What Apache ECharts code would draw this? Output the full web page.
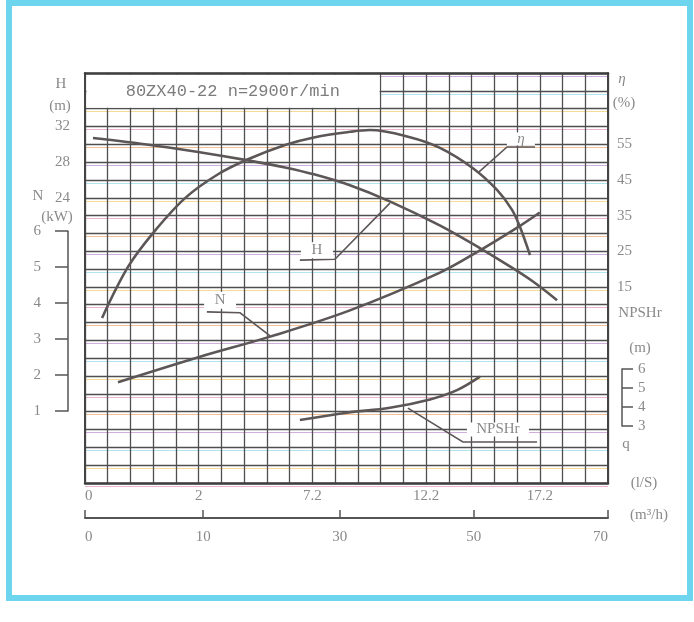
<!DOCTYPE html>
<html>
<head>
<meta charset="utf-8">
<script src="https://cdn.jsdelivr.net/npm/echarts@6/dist/echarts.min.js"></script>
<style>
html, body { margin: 0; padding: 0; background: #fff; }
#main { width: 694px; height: 622px; }
</style>
</head>
<body>
<div id="main"></div>
<script>
// x runs over the 23 grid columns of the sheet, labels as printed
var qTickPos = [0, 5, 10, 15, 20];
var qTickLabels = ['0', '2', '7.2', '12.2', '17.2'];
var flowTickPos = [0, 5.2, 11.2, 17.1, 23];
var flowTickLabels = ['0', '10', '30', '50', '70'];
var headTicks = [24, 28, 32];
var effTicks = [15, 25, 35, 45, 55];

// H (m)
var headX = [0.35, 2.95, 4.84, 7.17, 8.8, 10.11, 11.65, 13.4, 15.6, 17.4, 18.56, 19.7, 20.76];
var headY = [30.7, 29.9, 29.2, 28.2, 27.4, 26.6, 25.4, 23.6, 20.9, 18.3, 16.5, 14.6, 12.5];
// η (%)
var effX = [0.75, 1.89, 2.99, 4.4, 5.85, 7.17, 8.8, 10.11, 11.65, 12.53, 14.29, 15.61, 17.06, 18.12, 18.78, 19.13, 19.57];
var effY = [6.3, 20.6, 30.1, 39.9, 46.6, 50.8, 54.8, 57.0, 58.5, 59.0, 57.0, 54.0, 48.3, 42.2, 36.6, 31.8, 23.9];
// N (kW)
var powerX = [1.45, 5.06, 8.14, 11.65, 15.61, 17.24, 19.13, 20.0];
var powerY = [1.8, 2.51, 3.07, 3.8, 4.85, 5.42, 6.15, 6.52];
// NPSHr (m)
var npshX = [9.45, 11.52, 13.41, 15.17, 16.36, 17.37];
var npshY = [3.32, 3.7, 3.96, 4.4, 4.89, 5.6];

var G = { left: 85, top: 73, width: 523, height: 410 };
var N_MIN = -1, N_MAX = 10.4;
var NP_MIN = 0, NP_MAX = 410 / 19;

var ink = '#5d5656';
var gridInk = '#4f4f4f';
var textGray = '#8a8a8a';
var serif = 'Liberation Serif';

function pairs(xs, ys) {
  return xs.map(function (x, i) { return [x, ys[i]]; });
}
function valToY(v, min, max) {
  return G.top + G.height * (1 - (v - min) / (max - min));
}

var nTop = valToY(6, N_MIN, N_MAX), nBottom = valToY(1, N_MIN, N_MAX);
var pTop = valToY(6, NP_MIN, NP_MAX), pBottom = valToY(3, NP_MIN, NP_MAX);

function curve(name, data, yIdx) {
  return {
    name: name, type: 'line', xAxisIndex: 0, yAxisIndex: yIdx,
    data: data, smooth: 0.35, showSymbol: false, silent: true, z: 4,
    lineStyle: { color: ink, width: 2.6 }
  };
}

var option = {
  animation: false,
  backgroundColor: '#fff',
  grid: [
    { left: G.left, top: G.top, width: G.width, height: G.height },
    { left: 68, top: nTop, width: 2, height: nBottom - nTop },
    { left: 620, top: pTop, width: 2, height: pBottom - pTop },
    { left: G.left, top: G.top + 3, width: G.width, height: G.height }
  ],
  xAxis: [
    {
      gridIndex: 0, type: 'value', min: 0, max: 23, interval: 1, position: 'bottom',
      axisLine: { onZero: false, lineStyle: { color: '#3f3f3f', width: 2.5 } },
      axisTick: { show: false },
      splitLine: { show: true, lineStyle: { color: gridInk, width: 1.3 } },
      axisLabel: {
        customValues: qTickPos, color: textGray, fontFamily: serif, fontSize: 15, margin: 6,
        alignMinLabel: 'left',
        formatter: function (v) { return qTickLabels[qTickPos.indexOf(v)]; }
      }
    },
    {
      gridIndex: 0, type: 'value', min: 0, max: 23, position: 'bottom', offset: 35,
      axisLine: { onZero: false, lineStyle: { color: '#555', width: 2 } },
      axisTick: { show: true, inside: true, length: 8, customValues: flowTickPos, lineStyle: { color: '#555', width: 1.5 } },
      splitLine: { show: false },
      axisLabel: {
        customValues: flowTickPos, color: textGray, fontFamily: serif, fontSize: 15, margin: 12,
        alignMinLabel: 'left', alignMaxLabel: 'right',
        formatter: function (v) { return flowTickLabels[flowTickPos.indexOf(v)]; }
      }
    },
    {
      gridIndex: 0, type: 'value', min: 0, max: 23, position: 'top', z: 6,
      axisLine: { onZero: false, lineStyle: { color: '#3f3f3f', width: 2.5 } },
      axisTick: { show: false }, axisLabel: { show: false }, splitLine: { show: false }
    },
    { gridIndex: 1, type: 'value', min: 0, max: 1, show: false },
    { gridIndex: 2, type: 'value', min: 0, max: 1, show: false },
    { gridIndex: 3, type: 'value', min: 0, max: 23, show: false }
  ],
  yAxis: [
    {
      gridIndex: 0, type: 'value', min: -8, max: 38, interval: 2, position: 'left',
      axisLine: { show: true, onZero: false, lineStyle: { color: '#444', width: 2 } },
      axisTick: { show: false },
      splitLine: { show: true, lineStyle: { color: gridInk, width: 1.3 } },
      axisLabel: { customValues: headTicks, color: textGray, fontFamily: serif, fontSize: 15, margin: 15 }
    },
    { gridIndex: 0, type: 'value', min: N_MIN, max: N_MAX, show: false },
    {
      gridIndex: 0, type: 'value', min: -40, max: 75, interval: 5, position: 'right',
      axisLine: { show: true, onZero: false, lineStyle: { color: '#444', width: 2 } },
      axisTick: { show: false }, splitLine: { show: false },
      axisLabel: { customValues: effTicks, color: textGray, fontFamily: serif, fontSize: 15, margin: 9 }
    },
    { gridIndex: 0, type: 'value', min: NP_MIN, max: NP_MAX, show: false },
    {
      gridIndex: 1, type: 'value', min: 1, max: 6, interval: 1, position: 'left',
      axisLine: { show: true, onZero: false, lineStyle: { color: '#555', width: 1.5 } },
      axisTick: { show: true, length: 13, lineStyle: { color: '#555', width: 1.5 } },
      splitLine: { show: false },
      axisLabel: { color: textGray, fontFamily: serif, fontSize: 15, margin: 27 }
    },
    {
      gridIndex: 2, type: 'value', min: 3, max: 6, interval: 1, position: 'right',
      axisLine: { show: true, onZero: false, lineStyle: { color: '#555', width: 1.5 } },
      axisTick: { show: true, length: 11, lineStyle: { color: '#555', width: 1.5 } },
      splitLine: { show: false },
      axisLabel: { color: textGray, fontFamily: serif, fontSize: 15, margin: 16 }
    },
    {
      // colour fringes of the printed sheet
      gridIndex: 3, type: 'value', min: 0, max: 23, interval: 1,
      axisLine: { show: false }, axisTick: { show: false }, axisLabel: { show: false },
      splitLine: { show: true, lineStyle: { color: ['#e6a2c6', '#f2d27a', '#9fdcec', '#c49bd6', '#f0b07a'], width: 1.2, opacity: 0.8 } }
    }
  ],
  series: [
    curve('H', pairs(headX, headY), 0),
    curve('η', pairs(effX, effY), 2),
    curve('N', pairs(powerX, powerY), 1),
    curve('NPSHr', pairs(npshX, npshY), 3)
  ]
};

var chart = echarts.init(document.getElementById('main'));
chart.setOption(option);

// annotations, in (column, H) units
var leaders = [
  [[19.79, 29.7], [18.56, 29.7], [17.28, 26.8]],
  [[9.45, 17.0], [10.99, 17.1], [13.41, 23.4]],
  [[5.36, 11.2], [6.82, 11.1], [8.14, 8.5]],
  [[19.88, -3.4], [16.62, -3.4], [14.2, 0.4]]
];
var tags = [
  { text: 'η', at: [19.17, 30.6], w: 28, h: 13, font: 'italic 15px ' + serif },
  { text: 'H', at: [10.2, 18.1], w: 32, h: 16, font: '15px ' + serif },
  { text: 'N', at: [5.94, 12.5], w: 32, h: 17, font: '15px ' + serif },
  { text: 'NPSHr', at: [18.16, -2.0], w: 62, h: 14, font: '15px ' + serif }
];
function px(p) { return chart.convertToPixel({ xAxisIndex: 0, yAxisIndex: 0 }, p); }

var elems = [];
// frame
elems.push({ type: 'rect', shape: { x: 9, y: 3, width: 681, height: 595 }, style: { fill: null, stroke: '#6dd5ee', lineWidth: 6 }, z: 10, silent: true });
// title box
var a = px([0, 38]), b = px([13, 34]);
elems.push({ type: 'rect', shape: { x: a[0] + 1.5, y: a[1] + 1.5, width: b[0] - a[0] - 2.5, height: b[1] - a[1] - 2.5 }, style: { fill: '#fff' }, z: 3, silent: true });
elems.push({ type: 'text', style: { text: '80ZX40-22 n=2900r/min', x: (a[0] + b[0]) / 2, y: (a[1] + b[1]) / 2 + 1, align: 'center', verticalAlign: 'middle', fill: '#7c7c7c', font: '17px "Liberation Mono"' }, z: 4, silent: true });

leaders.forEach(function (l) {
  elems.push({ type: 'polyline', shape: { points: l.map(px) }, style: { stroke: ink, lineWidth: 1.6, fill: null }, z: 5, silent: true });
});
tags.forEach(function (t) {
  var c = px(t.at);
  elems.push({ type: 'rect', shape: { x: c[0] - t.w / 2, y: c[1] - t.h / 2, width: t.w, height: t.h }, style: { fill: '#fff' }, z: 6, silent: true });
  elems.push({ type: 'text', style: { text: t.text, x: c[0], y: c[1], align: 'center', verticalAlign: 'middle', fill: textGray, font: t.font }, z: 7, silent: true });
});

// axis names as printed
var names = [
  ['H', 61, 84], ['(m)', 60, 106], ['N', 38, 196], ['(kW)', 57, 217],
  ['η', 622, 79], ['(%)', 624, 103], ['NPSHr', 640, 313], ['(m)', 640, 348],
  ['q', 626, 444], ['(l/S)', 644, 483], ['(m³/h)', 649, 515]
];
names.forEach(function (n) {
  elems.push({ type: 'text', style: { text: n[0], x: n[1], y: n[2], align: 'center', verticalAlign: 'middle', fill: textGray, font: (n[0] === 'η' ? 'italic ' : '') + '15px ' + serif }, z: 7, silent: true });
});

chart.setOption({ graphic: { elements: elems } });
</script>
</body>
</html>
